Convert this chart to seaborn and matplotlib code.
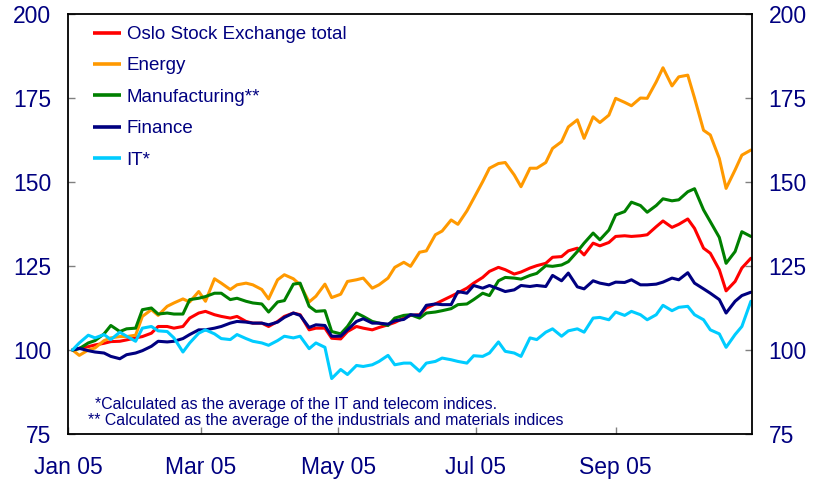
import matplotlib
matplotlib.use("Agg")
import matplotlib.pyplot as plt
import matplotlib.dates as mdates
from matplotlib.lines import Line2D
import numpy as np
import pandas as pd
import seaborn as sns

# ── Data (twice a week) ──────────────────────────────────────────────────────
dates = pd.to_datetime([
    "2005-01-03", "2005-01-06", "2005-01-10", "2005-01-13", "2005-01-17", "2005-01-20",
    "2005-01-24", "2005-01-27", "2005-01-31", "2005-02-03", "2005-02-07", "2005-02-10",
    "2005-02-14", "2005-02-17", "2005-02-21", "2005-02-24", "2005-02-28", "2005-03-03",
    "2005-03-07", "2005-03-10", "2005-03-14", "2005-03-17", "2005-03-21", "2005-03-24",
    "2005-03-28", "2005-03-31", "2005-04-04", "2005-04-07", "2005-04-11", "2005-04-14",
    "2005-04-18", "2005-04-21", "2005-04-25", "2005-04-28", "2005-05-02", "2005-05-05",
    "2005-05-09", "2005-05-12", "2005-05-16", "2005-05-19", "2005-05-23", "2005-05-26",
    "2005-05-30", "2005-06-02", "2005-06-06", "2005-06-09", "2005-06-13", "2005-06-16",
    "2005-06-20", "2005-06-23", "2005-06-27", "2005-06-30", "2005-07-04", "2005-07-07",
    "2005-07-11", "2005-07-14", "2005-07-18", "2005-07-21", "2005-07-25", "2005-07-28",
    "2005-08-01", "2005-08-04", "2005-08-08", "2005-08-11", "2005-08-15", "2005-08-18",
    "2005-08-22", "2005-08-25", "2005-08-29", "2005-09-01", "2005-09-05", "2005-09-08",
    "2005-09-12", "2005-09-15", "2005-09-19", "2005-09-22", "2005-09-26", "2005-09-29",
    "2005-10-03", "2005-10-06", "2005-10-10", "2005-10-13", "2005-10-17", "2005-10-20",
    "2005-10-24", "2005-10-27", "2005-10-31",
])

oslo_total = [
    100.0, 100.5, 101.0, 101.5, 102.0, 102.5, 102.6, 103.0, 103.6, 104.0, 105.0, 107.0,
    107.0, 106.5, 107.0, 109.5, 111.0, 111.5, 110.5, 110.0, 109.5, 110.0, 108.5, 108.0,
    108.0, 107.0, 108.5, 110.0, 111.0, 110.5, 106.0, 106.5, 106.5, 103.5, 103.3, 105.5,
    107.0, 106.5, 106.0, 106.7, 107.5, 108.2, 109.5, 110.3, 110.5, 112.5, 113.7, 114.7,
    116.0, 117.0, 118.4, 119.9, 121.6, 123.4, 124.6, 123.9, 122.6, 123.2, 124.4, 125.1,
    125.8, 127.6, 127.8, 129.5, 130.3, 128.3, 131.8, 131.0, 132.0, 133.8, 134.0, 133.8,
    134.0, 134.3, 136.7, 138.4, 136.5, 137.4, 139.0, 136.2, 130.3, 128.8, 123.9, 117.6,
    120.4, 124.4, 127.3,
]
energy = [
    100.0, 98.4, 100.0, 100.6, 102.8, 103.6, 104.0, 104.0, 104.4, 110.0, 112.0, 110.3,
    113.0, 114.0, 115.2, 114.3, 117.4, 114.5, 121.2, 119.9, 118.0, 119.4, 119.9, 119.4,
    118.0, 115.2, 120.9, 122.4, 121.2, 119.4, 114.3, 116.0, 119.6, 115.6, 116.6, 120.4,
    120.9, 121.4, 118.4, 119.4, 121.4, 124.6, 126.1, 124.9, 129.1, 129.5, 134.3, 135.4,
    138.7, 137.4, 141.4, 145.1, 150.1, 154.1, 155.5, 155.8, 152.1, 148.6, 154.1, 154.1,
    155.8, 160.0, 162.0, 166.4, 168.5, 163.0, 169.4, 167.7, 169.9, 174.9, 173.7, 172.7,
    175.0, 174.9, 179.8, 184.0, 178.6, 181.3, 181.8, 175.0, 165.4, 164.0, 157.0, 148.1,
    153.6, 158.0, 159.5,
]
manufacturing = [
    100.0, 100.4, 102.1, 102.8, 104.8, 107.3, 105.5, 106.3, 106.5, 112.0, 112.5, 110.7,
    111.0, 110.7, 110.7, 115.0, 115.4, 115.9, 116.9, 116.9, 115.0, 115.4, 114.5, 114.0,
    113.7, 111.3, 114.3, 114.7, 119.6, 119.9, 113.0, 111.5, 111.7, 105.5, 104.8, 107.0,
    111.0, 110.0, 108.5, 108.0, 107.3, 109.5, 110.3, 110.5, 109.5, 111.0, 111.3, 111.7,
    112.3, 113.5, 113.7, 115.0, 116.9, 116.2, 120.6, 121.6, 121.4, 121.1, 122.2, 122.8,
    125.1, 124.9, 125.3, 126.3, 129.3, 131.8, 134.8, 132.8, 135.7, 140.2, 141.2, 144.0,
    143.0, 141.0, 143.0, 145.0, 144.4, 144.7, 147.1, 148.0, 141.7, 138.2, 133.5, 125.8,
    129.3, 135.2, 133.8,
]
finance = [
    100.0, 100.5, 99.8, 99.4, 99.1, 98.1, 97.4, 98.6, 99.1, 99.8, 101.1, 102.6,
    102.4, 102.6, 103.4, 104.6, 106.0, 106.0, 106.5, 107.0, 108.0, 108.5, 108.3, 108.0,
    108.0, 107.5, 108.3, 109.7, 111.0, 110.3, 106.7, 107.5, 107.3, 104.1, 104.1, 106.0,
    108.5, 109.3, 108.0, 108.0, 107.7, 108.7, 109.1, 110.5, 110.3, 113.3, 113.7, 113.5,
    113.5, 117.4, 116.9, 119.2, 118.4, 119.2, 118.2, 117.4, 117.9, 119.2, 118.9, 119.2,
    118.9, 122.2, 120.6, 122.9, 118.8, 118.2, 120.6, 119.9, 119.4, 120.2, 120.1, 120.9,
    119.4, 119.4, 119.6, 120.2, 121.4, 120.9, 123.0, 119.9, 118.2, 116.9, 115.0, 111.0,
    114.5, 116.2, 117.2,
]
it_sector = [
    100.0, 102.1, 104.4, 103.6, 104.6, 103.1, 105.3, 104.1, 102.6, 106.5, 107.0, 105.7,
    105.5, 103.6, 99.4, 102.1, 105.0, 106.0, 104.8, 103.4, 103.1, 104.6, 103.4, 102.6,
    102.1, 101.4, 102.8, 104.1, 103.6, 104.1, 100.4, 102.1, 100.8, 91.5, 94.2, 92.7,
    95.4, 95.1, 95.6, 96.6, 98.4, 95.6, 96.1, 96.1, 93.7, 96.1, 96.6, 97.6,
    97.1, 96.6, 96.1, 98.3, 98.1, 99.1, 102.4, 99.6, 99.1, 98.1, 103.6, 103.1,
    105.3, 106.3, 104.1, 105.7, 106.3, 105.3, 109.5, 109.7, 109.0, 111.3, 110.3, 111.5,
    110.5, 109.0, 110.5, 113.3, 111.7, 112.7, 113.0, 110.5, 109.0, 106.0, 104.8, 100.8,
    104.6, 107.0, 114.5,
]

series_names = ["Oslo Stock Exchange total", "Energy", "Manufacturing**", "Finance", "IT*"]
series_values = [oslo_total, energy, manufacturing, finance, it_sector]
series_colors = ["#FF0000", "#FF9900", "#008000", "#000080", "#00CCFF"]

yticks = [75, 100, 125, 150, 175, 200]
xtick_dates = pd.to_datetime(["2005-01-01", "2005-03-01", "2005-05-01", "2005-07-01", "2005-09-01"])

footnote_1 = "*Calculated as the average of the IT and telecom indices."
footnote_2 = "** Calculated as the average of the industrials and materials indices"

NAVY = "#000080"

# ── Long table for seaborn ───────────────────────────────────────────────────
df = pd.concat(
    [pd.DataFrame({"date": dates, "value": vals, "series": name})
     for name, vals in zip(series_names, series_values)],
    ignore_index=True,
)

sns.set_style("ticks")
plt.rcParams["font.family"] = ["Liberation Sans", "DejaVu Sans"]

W, H = 814, 488
fig = plt.figure(figsize=(W / 100, H / 100), dpi=100)
ax = fig.add_axes([68 / W, 54 / H, 684 / W, 420 / H])

sns.lineplot(data=df, x="date", y="value", hue="series", hue_order=series_names,
             palette=dict(zip(series_names, series_colors)), linewidth=2.2,
             legend=False, ax=ax)

ax.set_xlim(pd.Timestamp("2005-01-01"), pd.Timestamp("2005-10-31 12:00"))
ax.set_ylim(75, 200)
ax.set_yticks(yticks)
ax.set_xticks(xtick_dates)
ax.xaxis.set_major_formatter(mdates.DateFormatter("%b %y"))
ax.set_xlabel("")
ax.set_ylabel("")

for sp in ax.spines.values():
    sp.set_visible(True)
    sp.set_color("black")
    sp.set_linewidth(1.3)

ax.tick_params(axis="x", direction="in", length=5, width=1, color="#808080",
               labelsize=16.5, labelcolor=NAVY, pad=16)
ax.tick_params(axis="y", direction="in", length=5, width=1, color="#808080",
               labelsize=16.5, labelcolor=NAVY, left=True, right=True,
               labelleft=True, labelright=True, pad=12)

handles = [Line2D([0], [0], color=c, lw=2.6, solid_capstyle="butt") for c in series_colors]
leg = ax.legend(handles, series_names, loc="upper left",
                bbox_to_anchor=(93 / W, 1 - 26 / H), bbox_transform=fig.transFigure,
                frameon=False, fontsize=13.5, handlelength=1.5, handletextpad=0.3,
                labelspacing=0.76, borderpad=0, borderaxespad=0)
for t in leg.get_texts():
    t.set_color(NAVY)

fig.text(95 / W, 1 - 405 / H, footnote_1, ha="left", va="center", fontsize=11.4, color=NAVY)
fig.text(88 / W, 1 - 420 / H, footnote_2, ha="left", va="center", fontsize=11.4, color=NAVY)

fig.savefig("out.png", dpi=100, facecolor="white")
